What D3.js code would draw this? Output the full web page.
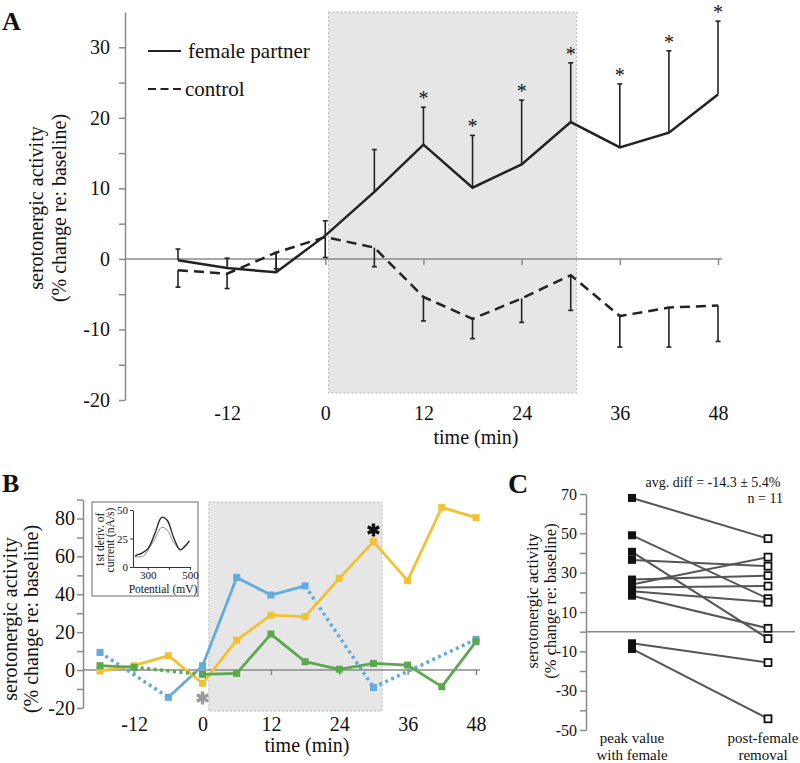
<!DOCTYPE html>
<html>
<head>
<meta charset="utf-8">
<script src="https://cdn.jsdelivr.net/npm/d3@7"></script>
<style>
    body { margin: 0; background: #fff; }
    svg text { font-family: "Liberation Serif", "Times New Roman", serif; fill: #111; }
</style>
</head>
<body>
<div id="chart"></div>
<script>
// ---------- panel A data ----------
var times = [-18, -12, -6, 0, 6, 12, 18, 24, 30, 36, 42, 48];
var femaleMean = [-0.2, -1.3, -1.9, 3.3, 9.5, 16.2, 10.1, 13.4, 19.4, 15.8, 17.9, 23.3];
var femaleSE = [1.6, 1.4, 2.8, 2.1, 6.0, 5.3, 7.4, 9.1, 8.4, 9.0, 11.6, 10.4];
var controlMean = [-1.6, -2.1, 0.9, 3.1, 1.6, -5.4, -8.5, -5.6, -2.3, -8.1, -6.9, -6.6];
var controlSE = [2.4, 2.1, 2.3, 2.9, 2.7, 3.4, 2.8, 3.4, 5.0, 4.4, 5.6, 5.1];
var starTimes = [12, 18, 24, 30, 36, 42, 48];
var timeTicks = [-12, 0, 12, 24, 36, 48];
var ticksA = [-20, -10, 0, 10, 20, 30];
var minorA = [-15, -5, 5, 15, 25];
var shadeA = [0.4, 30.7];

// ---------- panel B data (single examples) ----------
var orangeB = [-0.5, 2.3, 7.6, -7, 15.8, 29, 28.2, 48.4, 67.8, 47.2, 85.9, 80.5];
var blueB = [9.3, null, -14.4, 2.3, 48.9, 39.6, 44.4, null, -9.2, null, null, 16.2];
var greenB = [2.3, 1.4, null, -2.3, -1.8, 19, 4.4, 0.4, 3.5, 2.6, -8.8, 15];
var ticksB = [-20, 0, 20, 40, 60, 80];
var minorB = [-10, 10, 30, 50, 70, 90];
var shadeB = [1.1, 31.5];

// inset voltammograms
var blackPot = [240, 255, 271, 302, 334, 366, 392, 421, 453, 476, 497];
var blackVal = [9.6, 11, 12, 16.4, 29.5, 43.6, 41, 26.6, 15, 18.4, 23];
var grayPot = [240, 279, 302, 334, 366, 392, 421, 453, 476, 497];
var grayVal = [9, 9.6, 15, 25, 34.8, 32.5, 22, 15.5, 17, 23];

// ---------- panel C data ----------
var peakWithFemale = [68, 49, 40.6, 36.5, 26.5, 24, 22.5, 20.5, 18.3, -5.9, -8.8];
var postRemoval = [47.3, 16.8, -3.5, 33.3, 28.5, 37.9, 23.2, 15, 1.7, -15.7, -44.3];
var groupsC = ["peak value|with female", "post-female|removal"];
var ticksC = [-50, -30, -10, 10, 30, 50, 70];
var minorC = [-40, -20, 0, 20, 40, 60];

var ink = "#222";
var axisGray = "#8a8a8a";
var plain = function(d) { return String(d); };   // hyphen minus like the original

var svg = d3.select("#chart").append("svg")
    .attr("width", 800)
    .attr("height", 763);

// style the text/lines that d3.axis makes
function styleAxis(g, size) {
    g.attr("font-family", null);
    g.selectAll("text").attr("font-size", size).attr("fill", "#111");
    g.selectAll("line").attr("stroke", axisGray).attr("stroke-width", 1.5);
    g.selectAll("path").attr("stroke", axisGray).attr("stroke-width", 1.5);
}

function yTitle(x1, x2, cy, size, l1, l2) {
    svg.append("text").attr("transform", `translate(${x1},${cy}) rotate(-90)`)
        .attr("text-anchor", "middle").attr("font-size", size).text(l1);
    svg.append("text").attr("transform", `translate(${x2},${cy}) rotate(-90)`)
        .attr("text-anchor", "middle").attr("font-size", size).text(l2);
}

// =============== PANEL A ===============
var xA = d3.scaleLinear().domain([-18, 48]).range([178, 718]);
var yA = d3.scaleLinear().domain([-20, 35]).range([400, 12]);

svg.append("rect")
    .attr("x", xA(shadeA[0])).attr("y", 12)
    .attr("width", xA(shadeA[1]) - xA(shadeA[0]))
    .attr("height", 393 - 12)
    .attr("fill", "#e6e6e6")
    .attr("stroke", "#b5b5b5").attr("stroke-dasharray", "2,2");

var axA = svg.append("g").attr("transform", "translate(125,0)")
    .call(d3.axisLeft(yA).tickValues(ticksA).tickFormat(plain).tickSize(6).tickSizeOuter(0).tickPadding(9));
styleAxis(axA, 20);
var axAm = svg.append("g").attr("transform", "translate(125,0)")
    .call(d3.axisLeft(yA).tickValues(minorA).tickSize(6).tickFormat(""));
axAm.select(".domain").remove();
styleAxis(axAm, 20);

svg.append("line")
    .attr("x1", 125).attr("x2", 722)
    .attr("y1", yA(0)).attr("y2", yA(0))
    .attr("stroke", axisGray).attr("stroke-width", 1.5);

var axAx = svg.append("g").attr("transform", `translate(0,${yA(0)})`)
    .call(d3.axisBottom(xA).tickValues(timeTicks).tickFormat(plain).tickSize(6).tickPadding(141));
axAx.select(".domain").remove();
styleAxis(axAx, 20);

svg.append("text").attr("x", 476).attr("y", 444)
    .attr("text-anchor", "middle").attr("font-size", 20).text("time (min)");

// error bars
var capW = 2.5;
times.forEach(function(t, i) {
    var x = xA(t);
    var top = yA(femaleMean[i] + femaleSE[i]);
    svg.append("line").attr("x1", x).attr("x2", x)
        .attr("y1", yA(femaleMean[i])).attr("y2", top)
        .attr("stroke", ink).attr("stroke-width", 1.6);
    svg.append("line").attr("x1", x - capW).attr("x2", x + capW)
        .attr("y1", top).attr("y2", top)
        .attr("stroke", ink).attr("stroke-width", 1.6);

    var bot = yA(controlMean[i] - controlSE[i]);
    svg.append("line").attr("x1", x).attr("x2", x)
        .attr("y1", yA(controlMean[i])).attr("y2", bot)
        .attr("stroke", ink).attr("stroke-width", 1.6);
    svg.append("line").attr("x1", x - capW).attr("x2", x + capW)
        .attr("y1", bot).attr("y2", bot)
        .attr("stroke", ink).attr("stroke-width", 1.6);
});

var lineA = d3.line()
    .x(function(d) { return xA(d[0]); })
    .y(function(d) { return yA(d[1]); });

svg.append("path")
    .datum(d3.zip(times, controlMean))
    .attr("d", lineA)
    .attr("fill", "none").attr("stroke", ink).attr("stroke-width", 2.5)
    .attr("stroke-dasharray", "10,6");

svg.append("path")
    .datum(d3.zip(times, femaleMean))
    .attr("d", lineA)
    .attr("fill", "none").attr("stroke", ink).attr("stroke-width", 2.5);

// significance stars
starTimes.forEach(function(t) {
    var i = times.indexOf(t);
    svg.append("text")
        .attr("x", xA(t)).attr("y", yA(femaleMean[i] + femaleSE[i]) - 2)
        .attr("text-anchor", "middle").attr("font-size", 20).text("*");
});

// legend
svg.append("line").attr("x1", 148).attr("x2", 181).attr("y1", 51).attr("y2", 51)
    .attr("stroke", ink).attr("stroke-width", 2.2);
svg.append("text").attr("x", 188).attr("y", 58).attr("font-size", 21).text("female partner");
svg.append("line").attr("x1", 148).attr("x2", 181).attr("y1", 89).attr("y2", 89)
    .attr("stroke", ink).attr("stroke-width", 2.2).attr("stroke-dasharray", "8,4.5");
svg.append("text").attr("x", 185).attr("y", 96).attr("font-size", 21).text("control");

yTitle(43, 66, 208, 20, "serotonergic activity", "(% change re: baseline)");
svg.append("text").attr("x", 2).attr("y", 30).attr("font-size", 26).attr("font-weight", "bold").text("A");

// =============== PANEL B ===============
var xB = d3.scaleLinear().domain([-18, 48]).range([100, 476]);
var yB = d3.scaleLinear().domain([-20, 90]).range([707.9, 499.6]);

svg.append("rect")
    .attr("x", xB(shadeB[0])).attr("y", 502)
    .attr("width", xB(shadeB[1]) - xB(shadeB[0]))
    .attr("height", 711 - 502)
    .attr("fill", "#e6e6e6")
    .attr("stroke", "#b5b5b5").attr("stroke-dasharray", "2,2");

var axB = svg.append("g").attr("transform", "translate(83,0)")
    .call(d3.axisLeft(yB).tickValues(ticksB).tickFormat(plain).tickSize(6).tickSizeOuter(0).tickPadding(2));
styleAxis(axB, 20);
var axBm = svg.append("g").attr("transform", "translate(83,0)")
    .call(d3.axisLeft(yB).tickValues(minorB).tickSize(6).tickFormat(""));
axBm.select(".domain").remove();
styleAxis(axBm, 20);

svg.append("line")
    .attr("x1", 83).attr("x2", 480)
    .attr("y1", yB(0)).attr("y2", yB(0))
    .attr("stroke", axisGray).attr("stroke-width", 1.5);

var axBx = svg.append("g").attr("transform", `translate(0,${yB(0)})`)
    .call(d3.axisBottom(xB).tickValues(timeTicks).tickFormat(plain).tickSize(5).tickPadding(42));
axBx.select(".domain").remove();
styleAxis(axBx, 20);

svg.append("text").attr("x", 307).attr("y", 752)
    .attr("text-anchor", "middle").attr("font-size", 20).text("time (min)");

var lineB = d3.line()
    .x(function(d) { return xB(d[0]); })
    .y(function(d) { return yB(d[1]); });

function drawSeries(vals, color) {
    var pts = d3.zip(times, vals).filter(function(d) { return d[1] !== null; });
    var idx = times.map(function(t, i) { return i; }).filter(function(i) { return vals[i] !== null; });
    for (var k = 0; k < pts.length - 1; k++) {
        var gap = idx[k + 1] - idx[k] > 1;
        svg.append("path")
            .datum([pts[k], pts[k + 1]])
            .attr("d", lineB)
            .attr("fill", "none")
            .attr("stroke", color)
            .attr("stroke-width", gap ? 3.5 : 2.8)
            .attr("stroke-dasharray", gap ? "3,3.5" : null);
    }
    svg.append("g").selectAll("rect")
        .data(pts)
        .enter()
        .append("rect")
        .attr("x", function(d) { return xB(d[0]) - 3.5; })
        .attr("y", function(d) { return yB(d[1]) - 3.5; })
        .attr("width", 7).attr("height", 7)
        .attr("fill", color);
}

drawSeries(blueB, "#62abde");
drawSeries(orangeB, "#f2c133");
drawSeries(greenB, "#5aa94e");

// significance markers in B (bold six-armed asterisks)
var star = d3.symbol().type(d3.symbolAsterisk).size(120);
svg.append("path").attr("d", star)
    .attr("transform", `translate(${xB(30)},530)`)
    .attr("fill", "none").attr("stroke", "#111").attr("stroke-width", 3.4);
svg.append("path").attr("d", star)
    .attr("transform", `translate(${xB(0)},698)`)
    .attr("fill", "none").attr("stroke", "#9a9a9a").attr("stroke-width", 3.4);

yTitle(17, 38, 619, 20, "serotonergic activity", "(% change re: baseline)");
svg.append("text").attr("x", 2).attr("y", 492).attr("font-size", 26).attr("font-weight", "bold").text("B");

// inset
svg.append("rect").attr("x", 92).attr("y", 502).attr("width", 106).attr("height", 94)
    .attr("fill", "#fff").attr("stroke", "#9a9a9a").attr("stroke-width", 1.5);

var xI = d3.scaleLinear().domain([230, 500]).range([133, 190]);
var yI = d3.scaleLinear().domain([0, 50]).range([567, 510]);

var axI = svg.append("g").attr("transform", "translate(133,0)")
    .call(d3.axisLeft(yI).tickValues([0, 25, 50]).tickSize(3).tickSizeOuter(0).tickPadding(2));
styleAxis(axI, 11);
axI.selectAll("line, path").attr("stroke", "#333").attr("stroke-width", 1);
var axIx = svg.append("g").attr("transform", "translate(0,567)")
    .call(d3.axisBottom(xI).tickValues([300, 400, 500]).tickSize(3).tickSizeOuter(0).tickPadding(1)
        .tickFormat(function(d) { return d === 400 ? "" : d; }));
styleAxis(axIx, 11);
axIx.selectAll("line, path").attr("stroke", "#333").attr("stroke-width", 1);

var lineI = d3.line()
    .x(function(d) { return xI(d[0]); })
    .y(function(d) { return yI(d[1]); })
    .curve(d3.curveCatmullRom);
svg.append("path").datum(d3.zip(grayPot, grayVal)).attr("d", lineI)
    .attr("fill", "none").attr("stroke", "#8a8a8a").attr("stroke-width", 1);
svg.append("path").datum(d3.zip(blackPot, blackVal)).attr("d", lineI)
    .attr("fill", "none").attr("stroke", "#222").attr("stroke-width", 1.3);

svg.append("text").attr("x", 163).attr("y", 593).attr("text-anchor", "middle")
    .attr("font-size", 11.5).text("Potential (mV)");
yTitle(104, 114, 540, 11.5, "1st deriv. of", "current (nA/s)");

// =============== PANEL C ===============
var xC = d3.scalePoint().domain(groupsC).range([632, 768]);
var yC = d3.scaleLinear().domain([-50, 70]).range([730, 494]);

var axC = svg.append("g").attr("transform", "translate(586,0)")
    .call(d3.axisLeft(yC).tickValues(ticksC).tickFormat(plain).tickSize(6).tickSizeOuter(0).tickPadding(3));
styleAxis(axC, 16);
var axCm = svg.append("g").attr("transform", "translate(586,0)")
    .call(d3.axisLeft(yC).tickValues(minorC).tickSize(6).tickFormat(""));
axCm.select(".domain").remove();
styleAxis(axCm, 16);

svg.append("line")
    .attr("x1", 586).attr("x2", 795)
    .attr("y1", yC(0)).attr("y2", yC(0))
    .attr("stroke", axisGray).attr("stroke-width", 1.5);

var pairs = d3.zip(peakWithFemale, postRemoval);
svg.append("g").selectAll("line")
    .data(pairs)
    .enter()
    .append("line")
    .attr("x1", xC(groupsC[0])).attr("x2", xC(groupsC[1]))
    .attr("y1", function(d) { return yC(d[0]); })
    .attr("y2", function(d) { return yC(d[1]); })
    .attr("stroke", "#555").attr("stroke-width", 2);

svg.append("g").selectAll("rect")
    .data(peakWithFemale)
    .enter()
    .append("rect")
    .attr("x", xC(groupsC[0]) - 4).attr("y", function(d) { return yC(d) - 4; })
    .attr("width", 8).attr("height", 8)
    .attr("fill", "#111");

svg.append("g").selectAll("rect")
    .data(postRemoval)
    .enter()
    .append("rect")
    .attr("x", xC(groupsC[1]) - 3.5).attr("y", function(d) { return yC(d) - 3.5; })
    .attr("width", 7).attr("height", 7)
    .attr("fill", "#fff").attr("stroke", "#111").attr("stroke-width", 1.8);

// category labels (second one pulled in a little so it stays on the page)
var labelX = [xC(groupsC[0]), 763];
groupsC.forEach(function(g, i) {
    var parts = g.split("|");
    var t = svg.append("text").attr("text-anchor", "middle").attr("font-size", 15);
    t.append("tspan").attr("x", labelX[i]).attr("y", 743).text(parts[0]);
    t.append("tspan").attr("x", labelX[i]).attr("y", 760).text(parts[1]);
});

svg.append("text").attr("x", 713).attr("y", 487).attr("text-anchor", "middle")
    .attr("font-size", 14).text("avg. diff = -14.3 \u00b1 5.4%");
svg.append("text").attr("x", 783).attr("y", 503).attr("text-anchor", "end")
    .attr("font-size", 14).text("n = 11");

yTitle(538, 556, 601, 16.5, "serotonergic activity", "(% change re: baseline)");
svg.append("text").attr("x", 508).attr("y", 493).attr("font-size", 28).attr("font-weight", "bold").text("C");
</script>
</body>
</html>
